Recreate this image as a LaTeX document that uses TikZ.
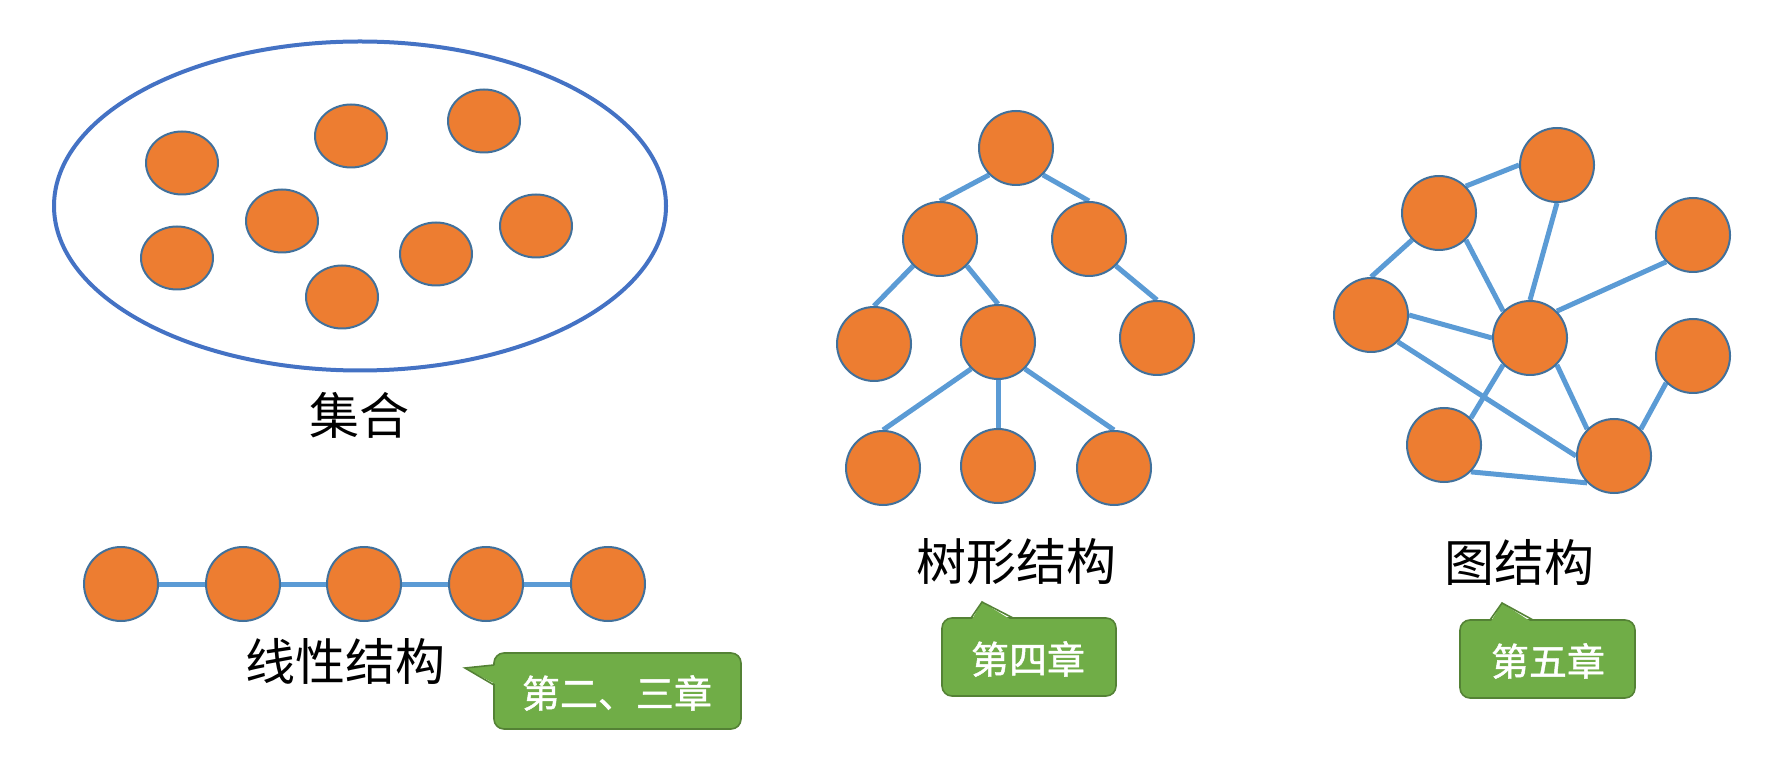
\documentclass[tikz,border=0pt]{standalone}
\usepackage{fontspec}
\newfontfamily\cjk{Noto Sans CJK SC}
\newfontfamily\cjkbold[FakeBold=1.2]{Noto Sans CJK SC}
\usetikzlibrary{shapes.geometric,backgrounds}
\definecolor{nodeor}{HTML}{ED7D31}
\definecolor{nodebd}{HTML}{41719C}
\definecolor{edgeblue}{HTML}{5B9BD5}
\definecolor{setblue}{HTML}{4472C4}
\definecolor{calloutg}{HTML}{70AD47}
\definecolor{calloutbd}{HTML}{548235}
\begin{document}
\begin{tikzpicture}[x=0.5pt,y=-0.5pt,
  vtx/.style={circle,fill=nodeor,draw=nodebd,line width=1pt,minimum size=37pt,inner sep=0pt},
  setvtx/.style={ellipse,fill=nodeor,draw=nodebd,line width=1pt,minimum width=36pt,minimum height=31.5pt,inner sep=0pt},
  link/.style={draw=edgeblue,line width=2.5pt},
  title/.style={font=\cjk\fontsize{25pt}{30pt}\selectfont,inner sep=0pt},
  tagtext/.style={font=\cjkbold\fontsize{19pt}{23pt}\selectfont,text=white,inner sep=0pt},
  tagbox/.style={fill=calloutg,draw=calloutbd,line width=0.8pt,rounded corners=5pt},
]
\useasboundingbox (0,0) rectangle (1770,758);

% ---------- set ----------
\node[ellipse,draw=setblue,line width=2pt,minimum width=306pt,minimum height=164.5pt,inner sep=0pt] (setring) at (360,206) {};
\node[setvtx] (s1) at (182,163) {};
\node[setvtx] (s2) at (351,136) {};
\node[setvtx] (s3) at (484,121) {};
\node[setvtx] (s4) at (282,221) {};
\node[setvtx] (s5) at (177,258) {};
\node[setvtx] (s6) at (436,254) {};
\node[setvtx] (s7) at (536,226) {};
\node[setvtx] (s8) at (342,297) {};
\node[title] (setlabel) at (359,415) {集合};

% ---------- linear ----------
\node[vtx] (l1) at (121,584) {};
\node[vtx] (l2) at (243,584) {};
\node[vtx] (l3) at (364,584) {};
\node[vtx] (l4) at (486,584) {};
\node[vtx] (l5) at (608,584) {};
\begin{scope}[on background layer]
  \draw[link] (l1) -- (l2) -- (l3) -- (l4) -- (l5);
\end{scope}
\node[title] (linlabel) at (345,661) {线性结构};

% ---------- tree ----------
\node[vtx] (t0) at (1016,148) {};
\node[vtx] (ta) at (940,239) {};
\node[vtx] (tb) at (1089,239) {};
\node[vtx] (tc) at (874,344) {};
\node[vtx] (td) at (998,342) {};
\node[vtx] (te) at (1157,338) {};
\node[vtx] (tf) at (883,468) {};
\node[vtx] (tg) at (998,466) {};
\node[vtx] (th) at (1114,468) {};
\begin{scope}[on background layer]
  \draw[link] (t0.south west) -- (ta.north);
  \draw[link] (t0.south east) -- (tb.north);
  \draw[link] (ta.south west) -- (tc.north);
  \draw[link] (ta.south east) -- (td.north);
  \draw[link] (tb.south east) -- (te.north);
  \draw[link] (td.south west) -- (tf.north);
  \draw[link] (td.south) -- (tg.north);
  \draw[link] (td.south east) -- (th.north);
\end{scope}
\node[title] (treelabel) at (1016,562) {树形结构};

% ---------- graph ----------
\node[vtx] (g1) at (1439,213) {};
\node[vtx] (g2) at (1557,165) {};
\node[vtx] (g3) at (1693,235) {};
\node[vtx] (g4) at (1371,315) {};
\node[vtx] (g5) at (1530,338) {};
\node[vtx] (g6) at (1693,356) {};
\node[vtx] (g7) at (1444,445) {};
\node[vtx] (g8) at (1614,456) {};
\begin{scope}[on background layer]
  \draw[link] (g1.north east) -- (g2.west);
  \draw[link] (g1.south west) -- (g4.north);
  \draw[link] (g1.south east) -- (g5.north west);
  \draw[link] (g2.south) -- (g5.north);
  \draw[link] (g3.south west) -- (g5.north east);
  \draw[link] (g4.east) -- (g5.west);
  \draw[link] (g4.south east) -- (g8.west);
  \draw[link] (g5.south west) -- (g7.north east);
  \draw[link] (g5.south east) -- (g8.north west);
  \draw[link] (g6.south west) -- (g8.north east);
  \draw[link] (g7.south east) -- (g8.south west);
\end{scope}
\node[title] (graphlabel) at (1519,562) {图结构};

% ---------- callouts ----------
\path[tagbox] (494,653) rectangle (741,729);
\fill[calloutg] (497,665) -- (465,668) -- (497,685) -- cycle;
\draw[calloutbd,line width=0.8pt,line join=miter] (494,665) -- (465,668) -- (494,685);
\node[tagtext] (tag1) at (617,693) {第二、三章};

\path[tagbox] (942,618) rectangle (1116,696);
\fill[calloutg] (971,621) -- (982,602) -- (1013,621) -- cycle;
\draw[calloutbd,line width=0.8pt,line join=miter] (971,618) -- (982,602) -- (1013,618);
\node[tagtext] (tag2) at (1028,659) {第四章};

\path[tagbox] (1460,620) rectangle (1635,698);
\fill[calloutg] (1490,623) -- (1502,603) -- (1533,623) -- cycle;
\draw[calloutbd,line width=0.8pt,line join=miter] (1490,620) -- (1502,603) -- (1533,620);
\node[tagtext] (tag3) at (1548,661) {第五章};
\end{tikzpicture}
\end{document}
